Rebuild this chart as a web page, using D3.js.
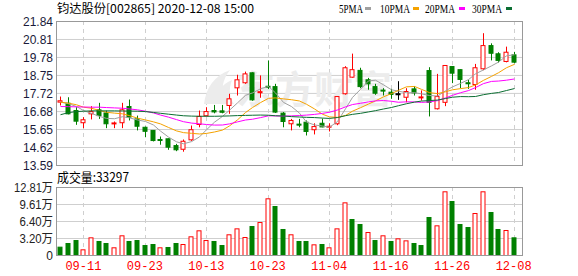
<!DOCTYPE html>
<html lang="zh">
<head>
<meta charset="UTF-8">
<title>钧达股份 日K</title>
<script src="https://d3js.org/d3.v7.min.js"></script>
<style>
  body { margin: 0; background: #fff; }
  svg { display: block; font-family: "Liberation Sans", Arial, sans-serif; }
  .cjk { font-family: "Noto Sans CJK SC", "Liberation Sans", sans-serif; }
  .serif { font-family: "Liberation Serif", serif; }
</style>
</head>
<body>
<svg id="chart" width="578" height="276"></svg>
<script>
// trading days shown (60 sessions)
const dates = ["09-08","09-09","09-10","09-11","09-14","09-15","09-16","09-17","09-18","09-21",
  "09-22","09-23","09-24","09-25","09-28","09-29","09-30","10-09","10-12","10-13",
  "10-14","10-15","10-16","10-19","10-20","10-21","10-22","10-23","10-26","10-27",
  "10-28","10-29","10-30","11-02","11-03","11-04","11-05","11-06","11-09","11-10",
  "11-11","11-12","11-13","11-16","11-17","11-18","11-19","11-20","11-23","11-24",
  "11-25","11-26","11-27","11-30","12-01","12-02","12-03","12-04","12-07","12-08"];

const opens = [17.22,17.16,16.74,16.04,16.55,16.78,16.60,15.99,16.04,16.97,
  16.26,15.78,15.60,15.08,15.12,14.73,14.52,15.06,15.94,16.44,
  16.74,16.72,17.03,18.04,18.33,18.90,17.76,18.13,18.11,16.59,
  15.98,15.96,16.07,15.64,16.01,15.80,15.98,17.70,18.65,19.04,
  18.50,18.11,17.91,17.79,17.70,17.50,17.98,17.48,19.03,16.84,
  17.21,19.26,19.08,18.33,18.23,19.13,20.46,19.99,19.55,19.93];
const highs = [17.54,17.50,16.93,16.36,16.99,17.18,16.74,16.11,17.18,17.37,
  16.45,15.82,15.62,15.25,15.14,14.83,15.08,15.88,16.74,16.93,
  17.06,17.06,17.70,18.79,18.97,18.93,18.75,19.61,18.27,16.65,
  16.26,16.26,16.17,16.01,16.28,16.01,17.56,19.28,20.00,19.19,
  18.61,18.27,18.02,17.98,18.42,18.02,18.13,17.89,19.22,18.84,
  19.32,19.28,19.10,18.50,19.41,21.17,20.59,20.08,20.40,20.10];
const lows = [17.03,16.52,15.92,15.73,16.23,16.26,15.73,15.73,15.73,16.17,
  15.60,15.21,14.97,14.78,14.49,14.41,14.38,15.00,15.78,16.40,
  16.58,16.58,16.55,17.60,18.27,17.30,17.47,17.97,16.60,15.78,
  15.60,15.78,15.31,15.37,15.78,15.54,15.90,17.65,18.62,18.02,
  17.93,17.64,17.60,17.41,17.35,17.21,17.60,17.31,16.40,16.80,
  16.99,18.31,18.02,17.98,17.93,19.05,19.61,19.49,19.50,19.45];
const closes = [17.30,16.55,16.13,16.21,16.68,16.45,15.98,16.03,16.78,16.36,
  15.84,15.55,15.02,15.04,14.64,14.49,14.98,15.64,16.40,16.68,
  16.66,16.64,17.41,18.50,18.84,17.35,17.82,18.09,16.65,16.11,
  16.17,15.92,15.54,15.82,15.80,15.84,17.54,19.19,19.08,18.11,
  18.27,17.73,17.87,17.66,17.70,17.83,17.75,17.52,17.21,17.54,
  19.32,18.88,18.52,18.29,19.19,20.46,20.02,19.61,20.08,19.51];
// volume in 万股
const volumes = [1.57,2.26,2.82,1.07,3.33,2.64,2.26,1.45,3.71,2.64,
  2.82,1.88,2.07,1.45,1.51,2.26,2.07,3.52,4.65,2.82,
  2.64,1.88,3.90,5.02,3.39,5.46,6.21,10.68,9.23,4.90,
  3.90,2.64,2.64,2.01,2.07,1.45,5.02,9.92,6.78,5.84,
  4.33,2.82,3.71,2.64,3.14,2.76,2.26,1.88,7.16,5.59,
  12.00,10.17,5.84,5.27,7.91,12.00,8.10,4.90,4.71,3.33];
const lastVolume = 33297; // shown after 成交量
const prevClose = 17.45; // close on 09-07, sets colour of the first volume bar

// moving-average values before enough closes are in the window
const ma5Head = [17.22,17.13,16.97,16.74];
const ma10Head = [17.22,17.16,17.07,16.93,16.87,16.74,16.64,16.59,16.55];
const ma20Head = [16.97,16.96,16.95,16.94,16.93,16.93,16.91,16.89,16.87,16.83,
  16.78,16.70,16.60,16.48,16.36,16.22,16.10,16.02,15.98];
const ma30Head = [16.50,16.62,16.68,16.70,16.72,16.72,16.72,16.72,16.71,16.71,
  16.70,16.68,16.63,16.58,16.53,16.48,16.44,16.42,16.41,16.41,
  16.41,16.42,16.43,16.45,16.46,16.47,16.48,16.47,16.44];

const priceTicks = [21.84,20.81,19.78,18.75,17.72,16.68,15.65,14.62,13.59];
const volTicks = [12.81,9.61,6.40,3.20,0];
const volTickLabels = ["12.81万","9.61万","6.40万","3.20万","0"];
const xTickDates = ["09-11","09-23","10-13","10-23","11-04","11-16","11-26","12-08"];

const maSeries = [
  {name: "5PMA", n: 5, head: ma5Head, color: "#a0a0a0"},
  {name: "10PMA", n: 10, head: ma10Head, color: "#f5a200"},
  {name: "20PMA", n: 20, head: ma20Head, color: "#ff00ff"},
  {name: "30PMA", n: 30, head: ma30Head, color: "#0b6e32"}
];

const RED = "#ff0000", GREEN = "#008000";
const left = 56, right = 522;
const priceTop = 21, priceBottom = 165;
const volTop = 187, volBottom = 255;

const svg = d3.select("#chart");

const x = d3.scaleBand()
  .domain(d3.range(dates.length))
  .range([56.5, 517.5]);
const cx = i => Math.round(x(i) + x.bandwidth() / 2) + 0.5;

const y = d3.scaleLinear().domain([13.59, 21.84]).range([priceBottom + 0.5, priceTop + 0.5]);
const yv = d3.scaleLinear().domain([0, 12.81]).range([volBottom + 0.5, volTop + 0.5]);

// --- header
svg.append("text").attr("class", "cjk")
  .attr("x", 57).attr("y", 13)
  .attr("font-size", 12).attr("fill", "#000")
  .attr("textLength", 197).attr("lengthAdjust", "spacingAndGlyphs")
  .text("钧达股份[002865] 2020-12-08 15:00");

const legendPos = [{tx: 339, w: 24, sq: 365}, {tx: 380, w: 30, sq: 413},
                   {tx: 425, w: 30, sq: 459}, {tx: 472, w: 30, sq: 506}];
maSeries.forEach((m, k) => {
  const p = legendPos[k];
  svg.append("text").attr("class", "serif")
    .attr("x", p.tx).attr("y", 12.5).attr("font-size", 12).attr("fill", "#000")
    .attr("textLength", p.w).attr("lengthAdjust", "spacingAndGlyphs")
    .text(m.name);
  svg.append("rect").attr("x", p.sq).attr("y", 7).attr("width", 6).attr("height", 3)
    .attr("fill", m.color);
});

// --- grids
function grid(scale, ticks, top, bottom) {
  const g = svg.append("g");
  g.selectAll("line.h").data(ticks).join("line")
    .attr("x1", left).attr("x2", right)
    .attr("y1", d => scale(d)).attr("y2", d => scale(d))
    .attr("stroke", "#cfcfcf");
  g.selectAll("line.v").data(xTickDates).join("line")
    .attr("x1", d => cx(dates.indexOf(d))).attr("x2", d => cx(dates.indexOf(d)))
    .attr("y1", top).attr("y2", bottom)
    .attr("stroke", "#cfcfcf").attr("stroke-dasharray", "4,4");
}
grid(y, priceTicks, priceTop, priceBottom);
grid(yv, volTicks, volTop, volBottom);

// watermark
svg.append("text").attr("class", "cjk")
  .attr("x", 236).attr("y", 103).attr("font-size", 38).attr("font-weight", 700)
  .attr("fill", "#ececec").attr("textLength", 156).attr("lengthAdjust", "spacingAndGlyphs")
  .text("东方财富");
svg.append("path")
  .attr("d", "M204,104 C206,88 214,76 230,70 C222,80 220,92 226,104 Z M214,104 C216,92 222,84 232,80 C228,90 230,98 234,104 Z")
  .attr("fill", "#ececec");

// --- axes labels
const yAxis = d3.axisLeft(y).tickValues(priceTicks).tickSize(0).tickPadding(3)
  .tickFormat(d3.format(".2f"));
svg.append("g").attr("transform", `translate(${left},0)`).call(yAxis)
  .call(g => g.select(".domain").remove())
  .selectAll("text").attr("font-size", 12).attr("fill", "#1a1a3a")
  .attr("font-family", "Liberation Sans");

const vAxis = d3.axisLeft(yv).tickValues(volTicks).tickSize(0).tickPadding(3)
  .tickFormat((d, i) => volTickLabels[i]);
svg.append("g").attr("transform", `translate(${left},0)`).call(vAxis)
  .call(g => g.select(".domain").remove())
  .selectAll("text").attr("font-size", 12).attr("fill", "#222")
  .attr("font-family", "Liberation Sans, Noto Sans CJK SC")
  .attr("textLength", (d, i) => i < 4 ? (volTickLabels[i].length - 1) * 5.4 + 12 : null)
  .attr("lengthAdjust", "spacingAndGlyphs");

const xAxis = d3.axisBottom(x).tickValues(xTickDates.map(d => dates.indexOf(d)))
  .tickSize(0).tickPadding(4).tickFormat(i => dates[i]);
svg.append("g").attr("transform", `translate(0,${volBottom})`).call(xAxis)
  .call(g => g.select(".domain").remove())
  .selectAll("text").attr("font-size", 12).attr("fill", RED)
  .attr("font-family", "Liberation Mono, monospace").attr("dy", "0.95em");

svg.append("text").attr("class", "cjk")
  .attr("x", 57).attr("y", 182).attr("font-size", 13).attr("fill", "#000")
  .attr("textLength", 72).attr("lengthAdjust", "spacingAndGlyphs")
  .text("成交量:" + lastVolume);

// --- candles
const candleColor = i => closes[i] > opens[i] ? RED : (closes[i] < opens[i] ? GREEN : "#000");
const bodyW = 5;
const candles = svg.append("g").selectAll("g").data(d3.range(dates.length)).join("g");
candles.append("line")
  .attr("x1", cx).attr("x2", cx)
  .attr("y1", i => y(highs[i])).attr("y2", i => y(lows[i]))
  .attr("stroke", candleColor);
candles.append("rect")
  .attr("x", i => cx(i) - bodyW / 2)
  .attr("y", i => Math.min(y(opens[i]), y(closes[i])))
  .attr("width", bodyW - 1)
  .attr("height", i => Math.max(1, Math.abs(y(opens[i]) - y(closes[i]))))
  .attr("fill", i => closes[i] > opens[i] ? "#fff" : candleColor(i))
  .attr("stroke", candleColor);

// --- moving averages
maSeries.forEach(m => {
  const vals = closes.map((c, i) => i < m.n - 1 ? m.head[i]
    : d3.mean(closes.slice(i - m.n + 1, i + 1)));
  svg.append("path")
    .datum(vals)
    .attr("fill", "none").attr("stroke", m.color).attr("stroke-width", 1)
    .attr("d", d3.line().x((d, i) => cx(i)).y(d => y(d)));
});

// --- volume bars
const volUp = i => closes[i] >= (i === 0 ? prevClose : closes[i - 1]);
svg.append("g").selectAll("rect").data(d3.range(dates.length)).join("rect")
  .attr("x", i => cx(i) - bodyW / 2)
  .attr("y", i => yv(volumes[i]))
  .attr("width", bodyW - 1)
  .attr("height", i => yv(0) - yv(volumes[i]))
  .attr("fill", i => volUp(i) ? "#fff" : GREEN)
  .attr("stroke", i => volUp(i) ? RED : GREEN);

// --- frames
[[priceTop, priceBottom], [volTop, volBottom]].forEach(([t, b]) => {
  svg.append("rect").attr("x", left + 0.5).attr("y", t + 0.5)
    .attr("width", right - left).attr("height", b - t)
    .attr("fill", "none").attr("stroke", "#999");
});
</script>
</body>
</html>
